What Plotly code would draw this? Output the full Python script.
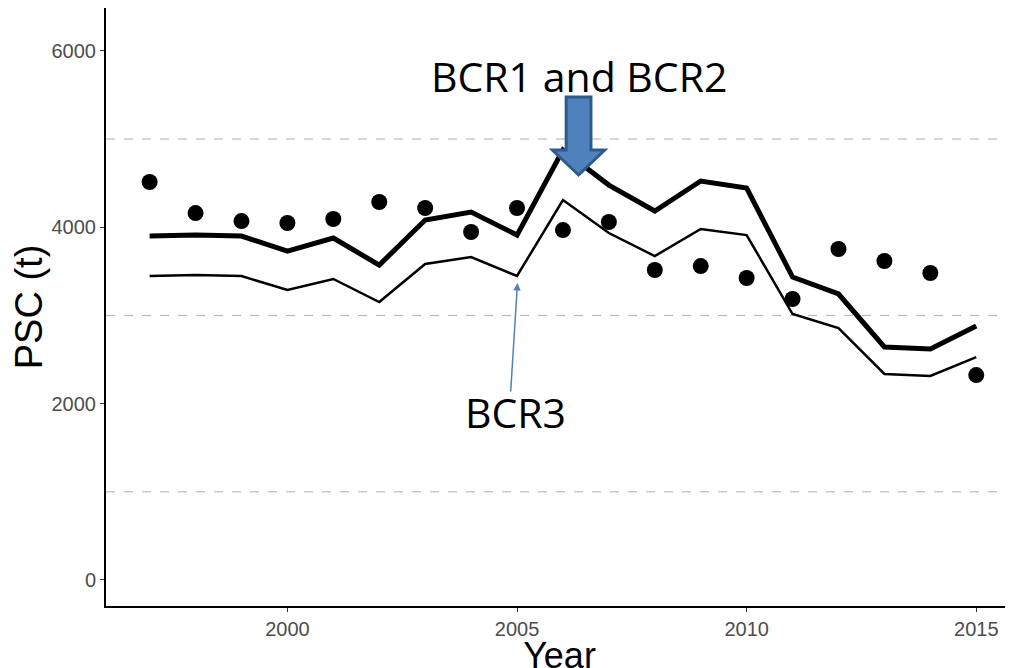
import plotly.graph_objects as go

years = list(range(1997, 2016))
observed = [4513, 4161, 4070, 4048, 4093, 4286, 4218, 3946, 4218, 3968, 4059, 3515, 3560, 3424, 3186, 3753, 3617, 3481, 2324]
bcr12 = [3900, 3911, 3900, 3730, 3878, 3571, 4082, 4172, 3911, 4875, 4478, 4184, 4524, 4444, 3435, 3243, 2642, 2619, 2880]
bcr3 = [3447, 3458, 3447, 3288, 3413, 3152, 3583, 3662, 3447, 4308, 3934, 3673, 3980, 3911, 3016, 2857, 2336, 2313, 2528]

fig = go.Figure()
fig.add_trace(go.Scatter(x=years, y=bcr3, mode="lines", line=dict(color="black", width=2.5)))
fig.add_trace(go.Scatter(x=years, y=bcr12, mode="lines", line=dict(color="black", width=5)))
fig.add_trace(go.Scatter(x=years, y=observed, mode="markers", marker=dict(color="black", size=16)))

# block arrow
cx = 2006.34
sw, hw = 0.27, 0.57
top, hb, tip = 5476, 4875, 4592
path = (f"M {cx-sw},{top} L {cx+sw},{top} L {cx+sw},{hb} L {cx+hw},{hb} "
        f"L {cx},{tip} L {cx-hw},{hb} L {cx-sw},{hb} Z")
fig.add_shape(type="path", path=path, xref="x", yref="y",
              fillcolor="#4f81bd", line=dict(color="#2f5b8c", width=3))

fig.add_annotation(x=cx, y=5720, text="BCR1 and BCR2", showarrow=False,
                   font=dict(size=41, color="black", family="Open Sans"))
fig.add_annotation(x=2004.97, y=1905, text="BCR3", showarrow=False,
                   font=dict(size=41, color="black", family="Open Sans"))
fig.add_annotation(x=2005.01, y=3367, ax=2004.86, ay=2120, axref="x", ayref="y",
                   text="", showarrow=True, arrowhead=2, arrowsize=1, arrowwidth=1.5,
                   arrowcolor="#4f81bd")

fig.update_layout(
    width=1013, height=668, showlegend=False,
    plot_bgcolor="white", paper_bgcolor="white",
    margin=dict(l=98, r=8, t=0, b=70),
    font=dict(family="Liberation Sans"),
    xaxis=dict(range=[1996.05, 2015.8], tickvals=[2000, 2005, 2010, 2015], automargin=False,
               showgrid=False, zeroline=False, showline=True, linecolor="black", linewidth=2,
               ticks="outside", ticklen=4, tickcolor="#333",
               tickfont=dict(size=20, color="#4d4d4d"),
               title=dict(text="Year", font=dict(size=36, color="black"), standoff=0)),
    yaxis=dict(range=[-295, 6486], tickvals=[0, 2000, 4000, 6000], automargin=False,
               showgrid=False, zeroline=False, showline=True, linecolor="black", linewidth=2,
               ticks="outside", ticklen=4, tickcolor="#333",
               tickfont=dict(size=20, color="#4d4d4d"),
               title=dict(text="PSC (t)", font=dict(size=38, color="black"), standoff=10)),
)
for yv in [1000, 3000, 5000]:
    fig.add_shape(type="line", xref="paper", yref="y", x0=0, x1=1, y0=yv, y1=yv,
                  line=dict(color="#b0b0b0", width=1, dash="dash"), layer="below")

fig.write_html("out.html")
